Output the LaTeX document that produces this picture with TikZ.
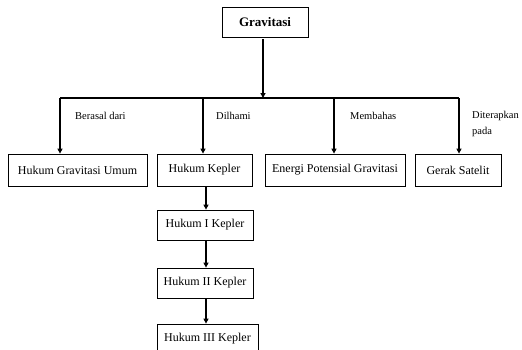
\documentclass[tikz,border=0pt]{standalone}
\usepackage{fontspec}
\setmainfont{Liberation Serif}
\usetikzlibrary{arrows.meta}
\begin{document}
\begin{tikzpicture}[x=1pt,y=-1pt,
  box/.style={draw, line width=0.8pt, inner sep=0pt, minimum height=32pt,
    font=\fontsize{12}{14}\selectfont},
  link/.style={line width=1.3pt},
  arr/.style={link, -{Triangle[length=5pt,width=5pt]}},
  lbl/.style={anchor=west, inner sep=0pt, align=left,
    font=\fontsize{10.5}{16}\selectfont}]
\useasboundingbox (0,0) rectangle (522,349);

% root
\node[box, minimum width=86pt, minimum height=30pt,
  font=\fontsize{13}{15}\selectfont\bfseries] (grav) at (265,22) {Gravitasi};

% branch rail
\coordinate (jm) at (263,98);
\coordinate (j1) at (60,98);
\coordinate (j2) at (203,98);
\coordinate (j3) at (334,98);
\coordinate (j4) at (459,98);

% second level
\node[box, minimum width=139pt] (umum)   at (77.5,170) {Hukum Gravitasi Umum};
\node[box, minimum width=95pt]  (kepler) at (204.5,170) {Hukum Kepler};
\node[box, minimum width=140pt] (energi) at (335,170) {Energi Potensial Gravitasi};
\node[box, minimum width=86pt]  (satelit) at (458,170) {Gerak Satelit};

% Kepler chain
\node[box, minimum width=96pt, minimum height=30pt] (k1) at (205,225) {Hukum I Kepler};
\node[box, minimum width=96pt, minimum height=30pt] (k2) at (205,283) {Hukum II Kepler};
\node[box, minimum width=101pt, minimum height=30pt] (k3) at (207.5,339) {Hukum III Kepler};

% connectors
\draw[arr, shorten <=2pt] (grav.south -| jm) -- (jm);
\draw[link] (j1) -- (j4);
\draw[arr] (j1) -- (j1 |- umum.north);
\draw[arr] (j2) -- (j2 |- kepler.north);
\draw[arr] (j3) -- (j3 |- energi.north);
\draw[arr] (j4) -- (j4 |- satelit.north);

\coordinate (kx) at (206,0);
\draw[arr] (kx |- kepler.south) -- (kx |- k1.north);
\draw[arr] (kx |- k1.south) -- (kx |- k2.north);
\draw[arr] (kx |- k2.south) -- (kx |- k3.north);

% branch labels
\node[lbl] (l1) at (75,116) {Berasal dari};
\node[lbl] (l2) at (216,116) {Dilhami};
\node[lbl] (l3) at (350,116) {Membahas};
\node[lbl, anchor=north west] (l4) at (472,111) {Diterapkan\\pada};
\end{tikzpicture}
\end{document}
